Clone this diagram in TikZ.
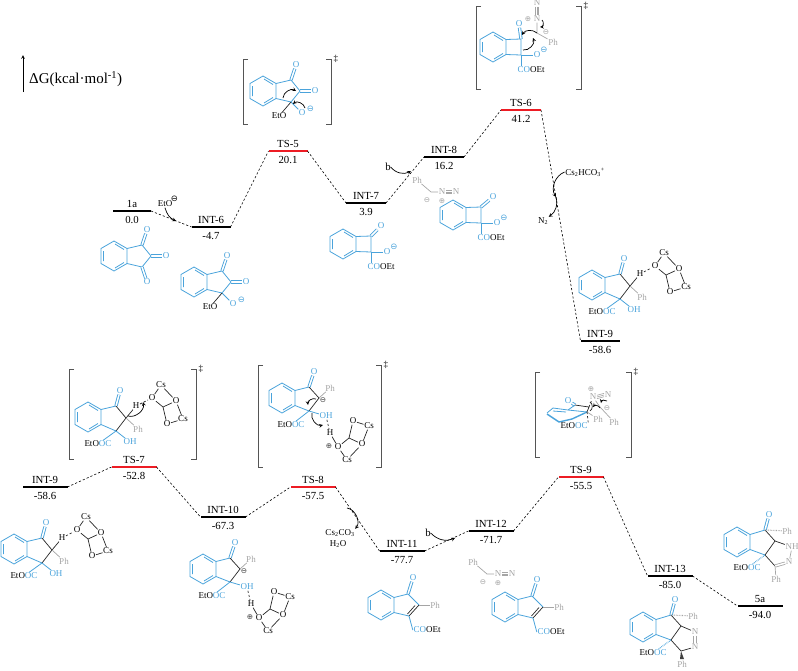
\documentclass[tikz,border=0pt]{standalone}
\usepackage{fontspec}
\setmainfont{Liberation Serif}
\newfontfamily\symfont{DejaVu Sans}
\usetikzlibrary{positioning}

\definecolor{mol}{RGB}{74,163,219}
\definecolor{ghost}{RGB}{165,165,165}
\definecolor{tsred}{RGB}{237,28,36}
\definecolor{brk}{RGB}{85,85,85}

\tikzset{
    bar/.style={fill=black,inner sep=0pt,outer sep=0pt,minimum height=2.2pt},
    redbar/.style={bar,fill=tsred},
    lbl/.style={inner sep=0pt,outer sep=0pt,font=\fontsize{10.8}{12}\selectfont},
    link/.style={line width=.6pt,dash pattern=on 2.2pt off 2pt},
    curly/.style={-stealth,line width=.7pt},
    bluebond/.style={draw=mol,line width=.8pt,line join=round},
    darkbond/.style={draw=black!85,line width=.7pt,line join=round},
    greybond/.style={draw=ghost,line width=.7pt,line join=round},
    bluedbl/.style={draw=mol,double=white,double distance=1.5pt,line width=.9pt},
    greydbl/.style={draw=ghost,double=white,double distance=1.5pt,line width=.8pt},
    bluetext/.style={inner sep=.5pt,text=mol,font=\fontsize{9}{10}\selectfont},
    darktext/.style={inner sep=.5pt,text=black,font=\fontsize{9}{10}\selectfont},
    greytext/.style={inner sep=.5pt,text=ghost,font=\fontsize{9}{10}\selectfont},
    charge/.style={inner sep=0pt,font=\symfont\fontsize{8.5}{9}\selectfont},
    smallcharge/.style={inner sep=0pt,font=\symfont\fontsize{7.5}{8}\selectfont}
}

\newcommand{\minussign}{⊖}
\newcommand{\plussign}{⊕}
\newcommand{\esterco}{EtO\textcolor{mol}{OC}}
\newcommand{\cooet}{\textcolor{mol}{CO}OEt}

% energy level: width, name, x, y, top text, value
\newcommand{\level}[7][bar]{
    \node[#1,minimum width=#2] (#3) at (#4,#5) {};
    \node[lbl,above=2.5pt of #3] (#3-name) {#6};
    \node[lbl,below=4.5pt of #3] (#3-val) {#7};
}
% square brackets of a transition state
\newcommand{\brackets}[4]{
    \draw[brk,line width=.8pt] (#1,#2) ++(5,0) -- ++(-5,0) -- (#1,#4) -- ++(5,0);
    \draw[brk,line width=.8pt] (#3,#2) ++(-5,0) -- ++(5,0) -- (#3,#4) -- ++(-5,0);
    \node[darktext,right=2pt] at (#3,#2) {‡};
}
% N triple bond, three plain lines
\newcommand{\triplex}[2]{
    \draw[greybond,line width=.6pt] (#1.east) -- (#2.west)
        ([yshift=1.7pt]#1.east) -- ([yshift=1.7pt]#2.west)
        ([yshift=-1.7pt]#1.east) -- ([yshift=-1.7pt]#2.west);
}
\newcommand{\benzo}{
    \coordinate (tr) at (13,-7.5);
    \coordinate (br) at (13,7.5);
    \draw[bluebond] (0,-15) -- (tr) -- (br) -- (0,15) -- (-13,7.5) -- (-13,-7.5) -- cycle;
    \draw[bluebond] (-10.5,-5) -- (-10.5,5) (1,-12) -- (10,-6.5) (1,12) -- (10,6.5);
}
% five ring with C=O, C=O
\newcommand{\dione}{
    \benzo
    \coordinate (c1) at (28,-11);
    \coordinate (c2) at (37,0);
    \coordinate (c3) at (28,11);
    \node[bluetext] (o1) at (33,-26) {O};
    \node[bluetext] (o2) at (52,0) {O};
    \draw[bluedbl] (c1) -- (o1);
    \draw[bluedbl] (c2) -- (o2);
    \draw[bluebond] (tr) -- (c1) -- (c2) -- (c3) -- (br);
}
\newcommand{\ethoxy}{
    \node[bluetext] (o3) at (39,22) {O};
    \node[charge,text=mol] (chg) at (47.5,18) {\minussign};
    \node[darktext] (eto) at (16,25) {EtO};
    \draw[bluebond] (c3) -- (o3);
    \draw[darkbond] (c3) -- (eto);
}
% four ring: position of the C=O oxygen is the argument
\newcommand{\cyclo}[1]{
    \benzo
    \coordinate (s1) at (28,-8);
    \coordinate (s2) at (28,8);
    \node[bluetext] (o1) at (#1) {O};
    \node[bluetext] (o2) at (44,8) {O};
    \node[charge,text=mol] (chg) at (51,3) {\minussign};
    \node[darktext] (est) at (38,23) {\cooet};
    \draw[bluedbl] (s1) -- (o1);
    \draw[bluebond] (tr) -- (s1) -- (s2) -- (br);
    \draw[bluebond] (s2) -- (o2);
    \draw[bluebond] (s2) -- (est.north -| s2);
}
\newcommand{\cluster}{
    \coordinate (q1) at (0,0);
    \coordinate (pcs1) at (9,-13);
    \coordinate (pq2) at (24,3);
    \coordinate (pcs2) at (31,21);
    \coordinate (pq3) at (15,26);
    \coordinate (cc) at (11,9);
    \node[darktext] (oa) at (q1) {O};
    \node[darktext] (csa) at (pcs1) {Cs};
    \node[darktext] (ob) at (pq2) {O};
    \node[darktext] (csb) at (pcs2) {Cs};
    \node[darktext] (oc) at (pq3) {O};
    \draw[darkbond] (oa) -- (csa) (csa) -- (ob) (ob) -- (csb) (csb) -- (oc)
        (oa) -- (cc) (cc) -- (ob) (cc) -- (oc);
}
% neutral indanone with H, Ph, OH and ester
\newcommand{\hydroxy}{
    \benzo
    \coordinate (c1) at (28,-11);
    \coordinate (c2) at (38,1);
    \coordinate (c3) at (28,14);
    \node[bluetext] (o1) at (32,-26) {O};
    \node[darktext] (hh) at (48,-11) {H};
    \node[greytext] (ph) at (50,12) {Ph};
    \node[darktext] (est) at (10,27) {\esterco};
    \node[bluetext] (oh) at (42,25) {OH};
    \draw[bluedbl] (c1) -- (o1);
    \draw[bluebond] (tr) -- (c1);
    \draw[bluebond] (br) -- (c3);
    \draw[darkbond] (c1) -- (c2) -- (c3);
    \draw[darkbond] (c2) -- (hh);
    \draw[greybond] (c2) -- (ph);
    \draw[bluebond] (c3) -- (oh);
    \draw[bluebond] (c3) -- (est);
}
% carbanion with OH...H-O contact below
\newcommand{\carbanion}{
    \benzo
    \coordinate (c1) at (27,-11);
    \coordinate (c2) at (37,0);
    \coordinate (c3) at (27,13);
    \node[bluetext] (o1) at (32,-26) {O};
    \node[greytext] (ph) at (48,-10) {Ph};
    \node[smallcharge,text=darkgray] (chg) at (41,2) {\minussign};
    \node[bluetext] (oh) at (44,18) {OH};
    \node[darktext] (est) at (9,27) {\esterco};
    \node[darktext] (hh) at (48,35) {H};
    \draw[bluedbl] (c1) -- (o1);
    \draw[bluebond] (tr) -- (c1);
    \draw[bluebond] (br) -- (c3);
    \draw[darkbond] (c1) -- (c2) -- (c3);
    \draw[greybond] (c2) -- (ph);
    \draw[bluebond] (c3) -- (oh);
    \draw[bluebond] (c3) -- (est);
    \draw[link,darkbond] (oh) -- (hh);
    \begin{scope}[shift={(56,49)},yscale=-1]
        \cluster
    \end{scope}
    \draw[darkbond] (hh) -- (oa);
    \node[smallcharge,text=darkgray] (chp) at (47,48) {\plussign};
}
% alkene product
\newcommand{\enone}{
    \benzo
    \coordinate (c1) at (27,-11);
    \coordinate (c2) at (38,0);
    \coordinate (c3) at (28,11);
    \node[bluetext] (o1) at (32,-27) {O};
    \node[greytext] (ph) at (54,0) {Ph};
    \node[darktext] (est) at (46,25) {\cooet};
    \draw[bluedbl] (c1) -- (o1);
    \draw[bluebond] (tr) -- (c1) -- (c2);
    \draw[bluebond] (c3) -- (br);
    \draw[darkbond] (c2) -- (c3) (34,0.5) -- (26.5,9);
    \draw[greybond] (c2) -- (ph);
    \draw[bluebond] (c3) -- (est.west);
}
\newcommand{\diazo}{
    \coordinate (ch) at (14,12);
    \node[greytext] (ph) at (0,0) {Ph};
    \node[greytext] (na) at (25,12) {N};
    \node[greytext] (nb) at (39,12) {N};
    \node[smallcharge,text=ghost] (chm) at (10,20) {\minussign};
    \node[smallcharge,text=ghost] (chp) at (25,21.5) {\plussign};
    \draw[greybond] (ph) -- (ch) -- (na);
    \triplex{na}{nb}
}
% fused five rings of the last two molecules
\newcommand{\fused}{
    \benzo
    \coordinate (c1) at (28,-12);
    \coordinate (cp) at (38,-1);
    \coordinate (c3) at (28,13);
    \coordinate (cq) at (38,24);
    \node[bluetext] (o1) at (32,-27) {O};
    \node[greytext] (pha) at (50,-11) {Ph};
    \node[greytext] (phb) at (39,37) {Ph};
    \node[darktext] (est) at (10,26) {\esterco};
    \draw[bluedbl] (c1) -- (o1);
    \draw[bluebond] (tr) -- (c1);
    \draw[bluebond] (br) -- (c3);
    \draw[darkbond] (c1) -- (cp) -- (c3) -- (cq);
    \draw[greybond,dash pattern=on .7pt off .9pt,line width=1.1pt] (c1) -- (pha);
    \draw[bluebond,dash pattern=on .7pt off .9pt,line width=1.1pt] (c3) -- (est);
}

\begin{document}
\begin{tikzpicture}[x=1pt,y=-1pt]
    \useasboundingbox (0,0) rectangle (798,670);

    % axis
    \coordinate (axisbase) at (23,92);
    \coordinate (axistip) at (23,55);
    \draw[-stealth,line width=.7pt] (axisbase) -- (axistip);
    \node[inner sep=0pt,anchor=west,font=\fontsize{15}{18}\selectfont] (axislabel) at (29,79) {ΔG(kcal·mol\textsuperscript{-1})};

    % levels, upper row
    \level{38}{onea}{132}{211}{1a}{0.0}
    \level{39}{intsix}{211}{227}{INT-6}{-4.7}
    \level[redbar]{39}{tsfive}{288}{151}{TS-5}{20.1}
    \level{40}{intseven}{366}{203}{INT-7}{3.9}
    \level{40}{inteight}{444}{157}{INT-8}{16.2}
    \level[redbar]{40}{tssix}{521}{110}{TS-6}{41.2}
    \level{39}{intnine}{600}{341}{INT-9}{-58.6}

    % levels, lower row
    \level{45}{intninb}{45}{487}{INT-9}{-58.6}
    \level[redbar]{45}{tsseven}{134}{467}{TS-7}{-52.8}
    \level{45}{intten}{223}{517}{INT-10}{-67.3}
    \level[redbar]{45}{tseight}{313}{487}{TS-8}{-57.5}
    \level{45}{inteleven}{402}{551}{INT-11}{-77.7}
    \level{45}{inttwelve}{491}{531}{INT-12}{-71.7}
    \level[redbar]{45}{tsnine}{581}{477}{TS-9}{-55.5}
    \level{45}{intthirt}{670}{576}{INT-13}{-85.0}
    \level{45}{fivea}{760}{606}{5a}{-94.0}

    % dashed links
    \draw[link] (onea.east) -- (intsix.west);
    \draw[link] (intsix.east) -- (tsfive.west);
    \draw[link] (tsfive.east) -- (intseven.west);
    \draw[link] (intseven.east) -- (inteight.west);
    \draw[link] (inteight.east) -- (tssix.west);
    \draw[link] (tssix.east) -- (intnine.west);
    \draw[link] (intninb.east) -- (tsseven.west);
    \draw[link] (tsseven.east) -- (intten.west);
    \draw[link] (intten.east) -- (tseight.west);
    \draw[link] (tseight.east) -- (inteleven.west);
    \draw[link] (inteleven.east) -- (inttwelve.west);
    \draw[link] (inttwelve.east) -- (tsnine.west);
    \draw[link] (tsnine.east) -- (intthirt.west);
    \draw[link] (intthirt.east) -- (fivea.west);

    % reagents on the links
    \node[darktext] (etoion) at (165,204) {EtO};
    \node[charge] (etocharge) at (174.5,199) {\minussign};
    \coordinate (etoend) at (176,221);
    \draw[curly] (etoion.south) to[bend right=25] (etoend);

    \node[lbl] (bup) at (388,167) {b};
    \coordinate (bupend) at (411,171);
    \draw[curly] (bup.east) to[bend right=40] (bupend);

    \node[darktext] (csion) at (585,172) {Cs\textsubscript{2}HCO\textsubscript{3}\textsuperscript{+}};
    \coordinate (csmid) at (556,197);
    \draw[curly] (csion.west) to[bend right=50] (csmid);
    \node[darktext] (ntwo) at (543,221) {N\textsubscript{2}};
    \draw[curly] (csmid) to[bend left=35] (ntwo.north east);

    \node[darktext] (cscarb) at (340,533) {Cs\textsubscript{2}CO\textsubscript{3}};
    \node[darktext] (water) at (338,544) {H\textsubscript{2}O};
    \coordinate (csstart) at (347,508);
    \draw[curly] (csstart) to[bend left=60] (cscarb.north east);

    \node[lbl] (bdown) at (428,533) {b};
    \coordinate (bdownend) at (455,538);
    \draw[curly] (bdown.east) to[bend right=35] (bdownend);

    % 1a
    \begin{scope}[shift={(114,256)},name prefix=a-]
        \dione
        \node[bluetext] (o3) at (33,26) {O};
        \draw[bluedbl] (c3) -- (o3);
    \end{scope}
    % INT-6
    \begin{scope}[shift={(194,282)},name prefix=b-]
        \dione
        \ethoxy
    \end{scope}
    % TS-5
    \brackets{243}{59}{331}{124}
    \begin{scope}[shift={(263,91)},name prefix=c-]
        \dione
        \ethoxy
        \draw[curly] (20,7) to[bend left=60] (33,0);
        \draw[curly] (42,17) to[bend right=60] (30,13);
    \end{scope}
    % INT-7
    \begin{scope}[shift={(343,244)},name prefix=d-]
        \cyclo{38,-18}
    \end{scope}
    % INT-8
    \begin{scope}[shift={(417,180)},name prefix=e-]
        \diazo
    \end{scope}
    \begin{scope}[shift={(453,215)},name prefix=f-]
        \cyclo{40,-18}
    \end{scope}
    % TS-6
    \brackets{476}{6}{581}{89}
    \begin{scope}[shift={(493,47)},name prefix=g-]
        \cyclo{26,-23}
        \coordinate (gc) at (44,-14);
        \node[greytext] (nc) at (44,-44) {N};
        \node[greytext] (nd) at (44,-28) {N};
        \node[greytext] (gph) at (60,-5) {Ph};
        \node[smallcharge,text=ghost] (gm) at (53,-15) {\minussign};
        \node[smallcharge,text=ghost] (gp) at (35,-28) {\plussign};
        \draw[greybond,line width=.6pt] (nc.south) -- (nd.north)
            ([xshift=1.7pt]nc.south) -- ([xshift=1.7pt]nd.north)
            ([xshift=-1.7pt]nc.south) -- ([xshift=-1.7pt]nd.north);
        \draw[greybond] (nd) -- (gc) -- (gph);
        \draw[curly] (44,-14) to[bend right=50] (29,-12);
        \draw[curly] (30,3) to[bend right=60] (40,-9);
        \draw[curly] (49,-27) to[bend left=70] (47,-20);
    \end{scope}
    % INT-9, right
    \begin{scope}[shift={(592,285)},name prefix=h-]
        \hydroxy
        \begin{scope}[shift={(63,-19)}]
            \cluster
        \end{scope}
        \draw[link,darkbond] (hh) -- (oa);
    \end{scope}
    % INT-9, left
    \begin{scope}[shift={(14,549)},name prefix=i-]
        \hydroxy
        \begin{scope}[shift={(63,-19)}]
            \cluster
        \end{scope}
        \draw[link,darkbond] (hh) -- (oa);
    \end{scope}
    % TS-7
    \brackets{69}{369}{196}{459}
    \begin{scope}[shift={(88,417)},name prefix=j-]
        \hydroxy
        \begin{scope}[shift={(64,-19)}]
            \cluster
        \end{scope}
        \draw[link,darkbond] (hh) -- (oa);
        \draw[curly] (40,-1) to[bend right=60] (55,-15);
    \end{scope}
    % INT-10
    \begin{scope}[shift={(203,569)},name prefix=k-]
        \carbanion
    \end{scope}
    % TS-8
    \brackets{258}{365}{381}{467}
    \begin{scope}[shift={(282,398)},name prefix=l-]
        \carbanion
        \draw[curly] (34,1) to[bend right=60] (26,7);
        \draw[curly] (30,15) to[bend right=60] (41,27);
    \end{scope}
    % INT-11
    \begin{scope}[shift={(381,605)},name prefix=m-]
        \enone
    \end{scope}
    % INT-12
    \begin{scope}[shift={(473,562)},name prefix=n-]
        \diazo
    \end{scope}
    \begin{scope}[shift={(505,607)},name prefix=o-]
        \enone
    \end{scope}
    % TS-9
    \brackets{535}{372}{631}{457}
    \begin{scope}[name prefix=p-]
        \coordinate (ra) at (568,410);
        \coordinate (rb) at (587,412);
        \coordinate (rc) at (575,405);
        \coordinate (rd) at (589,407);
        \coordinate (re) at (600,407);
        \node[bluetext] (po) at (568,401) {O};
        \node[darktext] (pest) at (574,426) {\esterco};
        \node[greytext] (pna) at (593,397) {N};
        \node[greytext] (pnb) at (608,395) {N};
        \node[greytext] (ppa) at (598,419) {Ph};
        \node[greytext] (ppb) at (614,422) {Ph};
        \node[smallcharge,text=ghost] (pp) at (591,389) {\plussign};
        \node[smallcharge,text=ghost] (pm) at (607,408) {\minussign};
        \draw[bluedbl] (rc) -- (po);
        \draw[bluebond] (547,413) -- (553,408) -- (ra) -- (rb) (553,411) -- (566,412);
        \draw[bluebond,line width=1.4pt] (547,414) -- (559,422) -- (572,419) -- (rb);
        \draw[bluebond] (ra) -- (rc);
        \draw[darkbond] (rc) -- (rd) -- (rb);
        \triplex{pna}{pnb}
        \draw[greybond] (pna) -- (re) -- (ppb) (rb) -- (ppa);
        \draw[link,darkbond] (rb) -- (pest.north east) (rd) -- (pna);
        \draw[darkbond] (590,402) to[bend left=60] (590,411);
        \draw[curly] (607,401) to[bend right=60] (601,403);
        \draw[curly] (600,408) to[bend right=60] (593,407);
    \end{scope}
    % INT-13
    \begin{scope}[shift={(643,627)},name prefix=q-]
        \fused
        \node[greytext] (nu) at (52,5) {N};
        \node[greytext] (nv) at (52,20) {N};
        \draw[darkbond] (cp) -- (nu) (cq) -- (nv);
        \draw[greydbl] (nu) -- (nv);
        \fill[darkgray] (cq) -- (37,32) -- (41,32) -- cycle;
    \end{scope}
    % 5a
    \begin{scope}[shift={(737,542)},name prefix=r-]
        \fused
        \node[greytext] (nh) at (55,5) {NH};
        \node[greytext] (nv) at (52,20) {N};
        \draw[darkbond] (cp) -- (nh);
        \draw[greydbl] (cq) -- (nv);
        \draw[greybond] (nh) -- (nv) (cq) -- (phb);
    \end{scope}
\end{tikzpicture}
\end{document}
